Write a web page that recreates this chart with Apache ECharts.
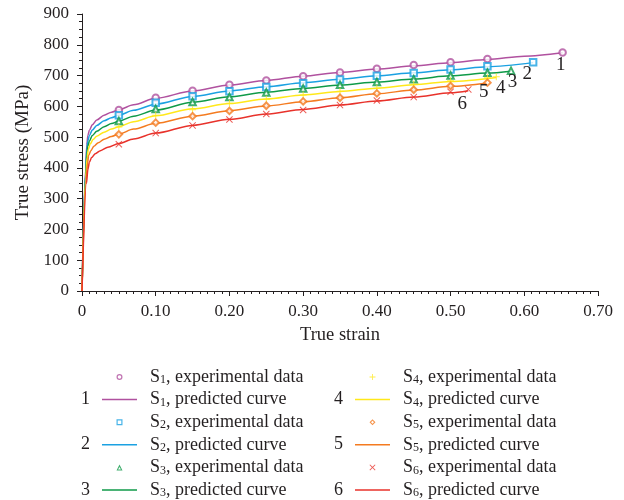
<!DOCTYPE html>
<html>
<head>
<meta charset="utf-8">
<script src="https://cdn.jsdelivr.net/npm/echarts@6/dist/echarts.min.js"></script>
<style>
  html, body { margin: 0; padding: 0; background: #fff; }
  #main { width: 624px; height: 500px; }
</style>
</head>
<body>
<div id="main"></div>
<script>
// 数据：试验点 [应变, 应力 MPa]
var s1Exp = [[0.05,588],[0.10,628],[0.15,651],[0.20,670],[0.25,684],[0.30,698],[0.35,710],[0.40,722],[0.45,734],[0.50,743],[0.55,754],[0.652,775]];
var s2Exp = [[0.05,571],[0.10,612],[0.15,633],[0.20,649],[0.25,663],[0.30,675],[0.35,687],[0.40,699],[0.45,708],[0.50,720],[0.55,730],[0.612,743]];
var s3Exp = [[0.05,552],[0.10,591],[0.15,614],[0.20,630],[0.25,645],[0.30,658],[0.35,670],[0.40,679],[0.45,688],[0.50,700],[0.55,709],[0.582,716]];
var s4Exp = [[0.05,533],[0.10,571],[0.15,589],[0.20,610],[0.25,623],[0.30,637],[0.35,649],[0.40,659],[0.45,672],[0.50,683],[0.55,693],[0.562,696]];
var s5Exp = [[0.05,509],[0.10,547],[0.15,568],[0.20,585],[0.25,602],[0.30,616],[0.35,628],[0.40,642],[0.45,654],[0.50,666],[0.55,677]];
var s6Exp = [[0.05,477],[0.10,513],[0.15,538],[0.20,557],[0.25,575],[0.30,588],[0.35,604],[0.40,619],[0.45,630],[0.50,647],[0.524,655]];

// 预测曲线（从图上读取的点）
var s1Pred = [[0,0],[0.005,400],[0.0065,475],[0.008,505],[0.01,522],[0.014,540],[0.02,556],[0.03,571],[0.04,581],[0.05,589],[0.07,605],[0.10,626],[0.15,650],[0.20,669],[0.25,684],[0.30,698],[0.35,710],[0.40,721],[0.45,732],[0.50,742],[0.55,752],[0.60,763],[0.652,774]];
var s2Pred = [[0,0],[0.005,390],[0.0065,460],[0.008,488],[0.01,505],[0.014,523],[0.02,538],[0.03,553],[0.04,563],[0.05,571],[0.07,587],[0.10,607],[0.15,632],[0.20,650],[0.25,664],[0.30,677],[0.35,688],[0.40,699],[0.45,709],[0.50,719],[0.55,729],[0.612,742]];
var s3Pred = [[0,0],[0.005,380],[0.0065,445],[0.008,471],[0.01,487],[0.014,505],[0.02,519],[0.03,534],[0.04,544],[0.05,552],[0.07,568],[0.10,588],[0.15,613],[0.20,631],[0.25,646],[0.30,658],[0.35,669],[0.40,679],[0.45,689],[0.50,699],[0.55,708],[0.582,714]];
var s4Pred = [[0,0],[0.0052,370],[0.007,435],[0.0085,460],[0.011,477],[0.015,492],[0.02,503],[0.03,516],[0.04,526],[0.05,534],[0.07,550],[0.10,569],[0.15,592],[0.20,609],[0.25,624],[0.30,637],[0.35,648],[0.40,659],[0.45,670],[0.50,681],[0.562,694]];
var s5Pred = [[0,0],[0.0055,360],[0.0075,415],[0.009,440],[0.012,456],[0.016,470],[0.022,482],[0.03,493],[0.04,502],[0.05,510],[0.07,526],[0.10,545],[0.15,568],[0.20,586],[0.25,601],[0.30,615],[0.35,628],[0.40,641],[0.45,653],[0.50,665],[0.55,676]];
var s6Pred = [[0,0],[0.006,350],[0.008,395],[0.01,418],[0.013,434],[0.018,446],[0.025,456],[0.035,467],[0.05,479],[0.07,494],[0.10,513],[0.15,538],[0.20,558],[0.25,575],[0.30,590],[0.35,604],[0.40,617],[0.45,630],[0.50,644],[0.524,651]];

// 曲线编号标注位置
var curveLabels = ['1','2','3','4','5','6'];
var labelPos = [[0.6495,733],[0.604,704],[0.584,678],[0.568,660],[0.545,645],[0.516,606]];

var colors = ['#b0519f','#1ba1e2','#0f9a48','#ffe81a','#f47b20','#e8322b'];
var symbols = ['emptyCircle','emptyRect','emptyTriangle',
  'path://M4.3,0h1.4v4.3h4.3v1.4h-4.3v4.3h-1.4v-4.3h-4.3v-1.4h4.3z',
  'emptyDiamond',
  'path://M1,0L5,4L9,0L10,1L6,5L10,9L9,10L5,6L1,10L0,9L4,5L0,1Z'];
// 图例里用的小图标（空心）
var legendIcons = [
  'path://M5,0A5,5 0 1,1 5,10A5,5 0 1,1 5,0Z M5,2A3,3 0 1,0 5,8A3,3 0 1,0 5,2Z',
  'path://M0,0H10V10H0Z M2,2V8H8V2Z',
  'path://M5,0L10,10H0Z M5,4.2L2.6,8.6H7.4Z',
  symbols[3],
  'path://M5,0L10,5L5,10L0,5Z M5,2.6L2.6,5L5,7.4L7.4,5Z',
  symbols[5]];
var lineIcon = 'path://M0,0H35V1.5H0Z';
var expData = [s1Exp,s2Exp,s3Exp,s4Exp,s5Exp,s6Exp];
var predData = [s1Pred,s2Pred,s3Pred,s4Pred,s5Pred,s6Pred];

var font = 'Liberation Serif';
var txt = '#231f20';

var myChart = echarts.init(document.getElementById('main'));

var series = [];
for (var i = 0; i < 6; i++) {
    series.push({
        name: 'S' + (i + 1) + 'p',
        type: 'line',
        data: predData[i],
        symbol: 'none',
        smooth: 0.3,
        smoothMonotone: 'x',
        lineStyle: { width: 1.5, color: colors[i] },
        itemStyle: { color: colors[i] },
        z: 2,
        markPoint: {
            symbol: 'circle',
            symbolSize: 0,
            data: [{ coord: labelPos[i], value: curveLabels[i] }],
            label: { show: true, formatter: curveLabels[i], color: txt, fontFamily: font, fontSize: 19 }
        }
    });
}
for (var j = 0; j < 6; j++) {
    var filled = symbols[j].indexOf('path://') === 0;
    series.push({
        name: 'S' + (j + 1) + 'e',
        type: 'scatter',
        data: expData[j],
        symbol: symbols[j],
        symbolSize: filled ? 7 : 6.5,
        itemStyle: filled ? { color: colors[j] } : { color: colors[j], borderColor: colors[j], borderWidth: 1.3 },
        z: 3
    });
}

function legendFmt(name) {
    var n = name.charAt(1);
    var kind = name.charAt(2) === 'e' ? 'experimental data' : 'predicted curve';
    return '{g|}{n|S}{s|' + n + '}{n|, ' + kind + '}';
}
var legendText = {
    fontFamily: font, fontSize: 18, color: txt,
    rich: {
        g: { width: 8 },
        n: { fontFamily: font, fontSize: 18, color: txt, lineHeight: 18 },
        s: { fontFamily: font, fontSize: 12, color: txt, lineHeight: 12, padding: [6, 0, 0, 0] }
    }
};
function legendItems(from) {
    var arr = [];
    for (var k = from; k < from + 3; k++) {
        arr.push({ name: 'S' + (k + 1) + 'e', icon: legendIcons[k] });
        arr.push({ name: 'S' + (k + 1) + 'p', icon: lineIcon });
    }
    return arr;
}
var numFont = '18px "Liberation Serif"';

option = {
    animation: false,
    backgroundColor: '#fff',
    grid: { left: 82, right: 26, top: 14, bottom: 209 },
    legend: [{
        left: 102, top: 368, orient: 'vertical', padding: 0,
        itemWidth: 35, itemHeight: 6, itemGap: 4.6,
        itemStyle: { borderWidth: 0 },
        data: legendItems(0),
        formatter: legendFmt, textStyle: legendText
    }, {
        left: 355, top: 368, orient: 'vertical', padding: 0,
        itemWidth: 35, itemHeight: 6, itemGap: 4.6,
        itemStyle: { borderWidth: 0 },
        data: legendItems(3),
        formatter: legendFmt, textStyle: legendText
    }],
    graphic: [
        { type: 'text', left: 81, top: 390, style: { text: '1', font: numFont, fill: txt } },
        { type: 'text', left: 81, top: 435, style: { text: '2', font: numFont, fill: txt } },
        { type: 'text', left: 81, top: 481, style: { text: '3', font: numFont, fill: txt } },
        { type: 'text', left: 334, top: 390, style: { text: '4', font: numFont, fill: txt } },
        { type: 'text', left: 334, top: 435, style: { text: '5', font: numFont, fill: txt } },
        { type: 'text', left: 334, top: 481, style: { text: '6', font: numFont, fill: txt } }
    ],
    xAxis: {
        type: 'value', min: 0, max: 0.7, interval: 0.1,
        name: 'True strain', nameLocation: 'middle', nameGap: 35,
        nameTextStyle: { fontFamily: font, fontSize: 18.5, color: txt },
        axisLine: { lineStyle: { color: '#231f20', width: 1 } },
        axisTick: { length: 5, lineStyle: { color: '#231f20' } },
        minorTick: { show: true, splitNumber: 10, length: 3, lineStyle: { color: '#231f20' } },
        splitLine: { show: false },
        axisLabel: {
            fontFamily: font, fontSize: 17, color: txt, margin: 12,
            formatter: function (v) { return v === 0 ? '0' : v.toFixed(2); }
        }
    },
    yAxis: {
        type: 'value', min: 0, max: 900, interval: 100,
        name: 'True stress (MPa)', nameLocation: 'middle', nameGap: 42,
        nameTextStyle: { fontFamily: font, fontSize: 19, color: txt },
        axisLine: { show: true, lineStyle: { color: '#231f20', width: 1 } },
        axisTick: { show: true, length: 5, lineStyle: { color: '#231f20' } },
        minorTick: { show: true, splitNumber: 4, length: 3, lineStyle: { color: '#231f20' } },
        splitLine: { show: false },
        axisLabel: { fontFamily: font, fontSize: 17, color: txt, margin: 13 }
    },
    series: series
};

myChart.setOption(option);
</script>
</body>
</html>
